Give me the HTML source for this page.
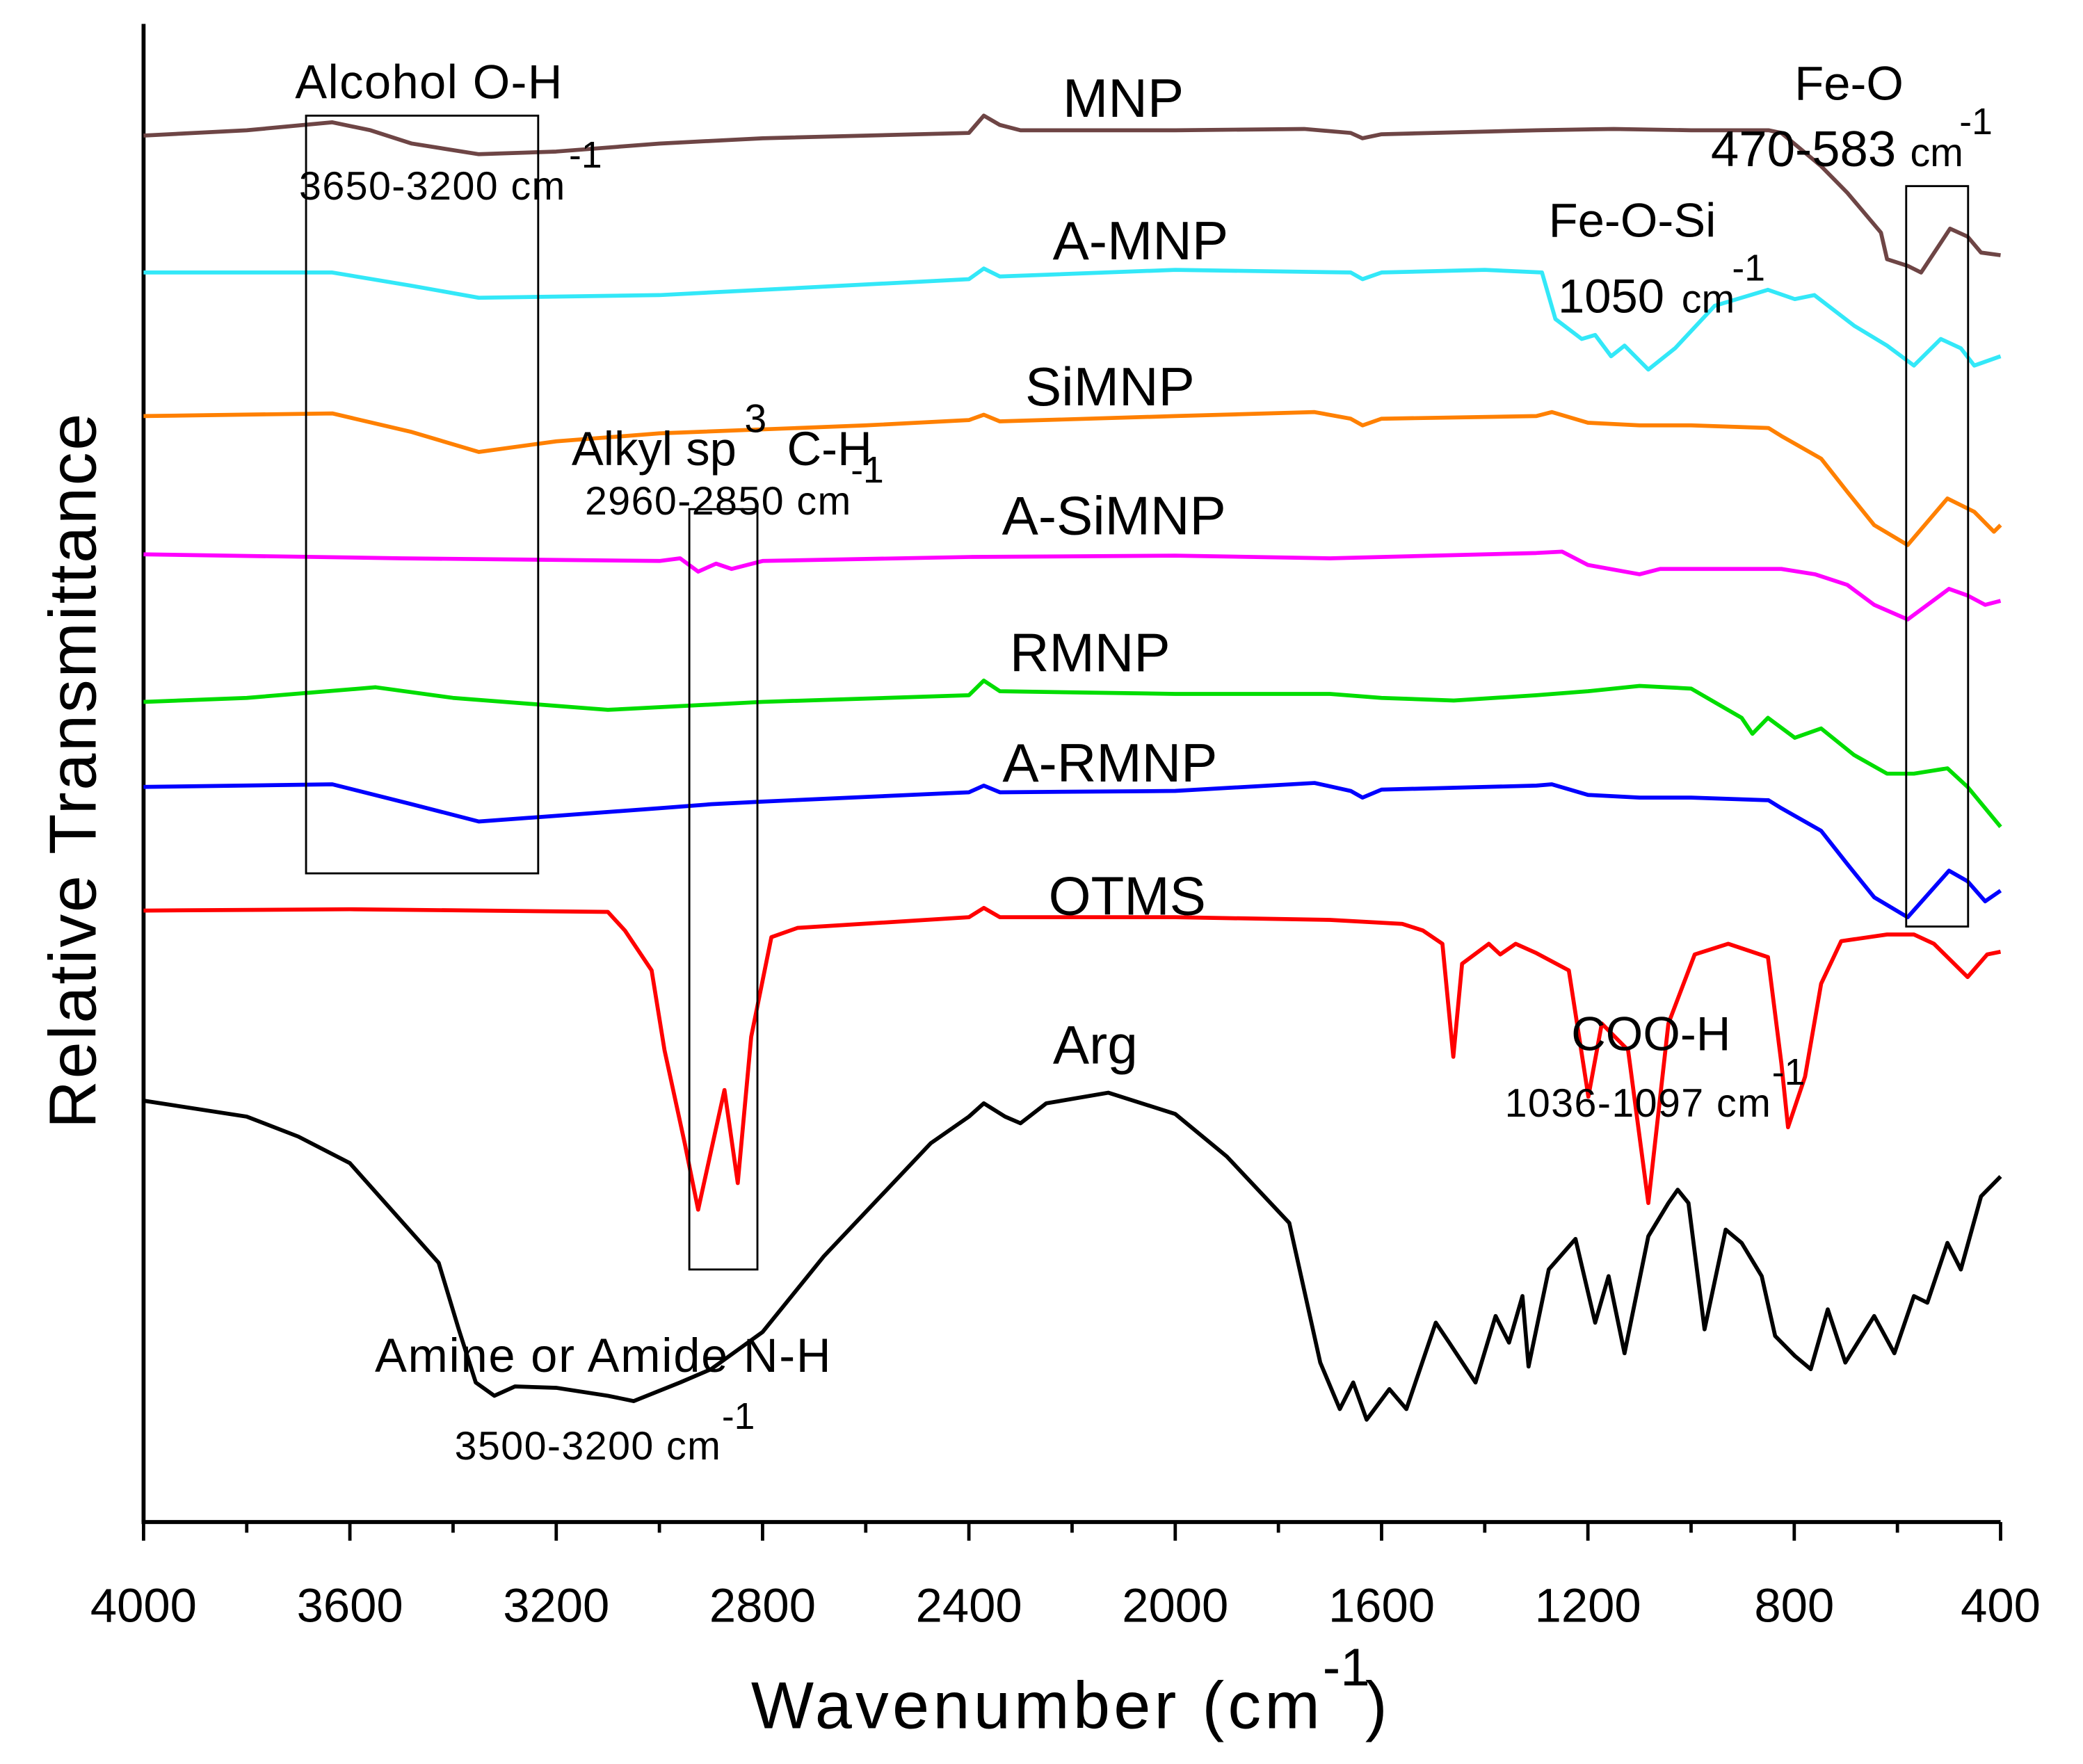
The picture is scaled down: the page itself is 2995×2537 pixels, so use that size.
<!DOCTYPE html>
<html><head><meta charset="utf-8"><style>
html,body{margin:0;padding:0;background:#fff;}
svg{display:block;}
text{font-family:"Liberation Sans",Arial,sans-serif;fill:#000;}
</style></head><body>
<svg id="chart" width="2995" height="2537" viewBox="0 0 1567 1327" preserveAspectRatio="none" xmlns="http://www.w3.org/2000/svg">
<g id="axes"></g>
<g id="series"></g>
<g id="ann">
<text x="222" y="74" font-size="36" textLength="201">Alcohol O-H</text>
<text x="225" y="150" font-size="30" textLength="200">3650-3200 cm</text>
<text x="428" y="126" font-size="28">-1</text>
<text x="430" y="350" font-size="36">Alkyl sp</text>
<text x="560" y="325" font-size="30">3</text>
<text x="592" y="350" font-size="36">C-H</text>
<text x="640" y="363" font-size="28">-1</text>
<text x="440" y="387" font-size="30" textLength="200">2960-2850 cm</text>
<text x="1350" y="75" font-size="36">Fe-O</text>
<text x="1287" y="125" font-size="38">470-583</text>
<text x="1437" y="125" font-size="30">cm</text>
<text x="1474" y="101" font-size="28">-1</text>
<text x="1165" y="178" font-size="36">Fe-O-Si</text>
<text x="1172" y="235" font-size="36">1050</text>
<text x="1265" y="235" font-size="30">cm</text>
<text x="1303" y="211" font-size="28">-1</text>
<text x="1182" y="790" font-size="36">COO-H</text>
<text x="1132" y="840" font-size="30" textLength="200">1036-1097 cm</text>
<text x="1333" y="816" font-size="28">-1</text>
<text x="282" y="1032" font-size="36" textLength="343">Amine or Amide N-H</text>
<text x="342" y="1098" font-size="30" textLength="200">3500-3200 cm</text>
<text x="543" y="1075" font-size="28">-1</text>
<text x="845" y="88" font-size="41" text-anchor="middle">MNP</text>
<text x="858" y="195" font-size="41" text-anchor="middle">A-MNP</text>
<text x="835" y="305" font-size="41" text-anchor="middle">SiMNP</text>
<text x="838" y="402" font-size="41" text-anchor="middle">A-SiMNP</text>
<text x="820" y="505" font-size="41" text-anchor="middle">RMNP</text>
<text x="835" y="588" font-size="41" text-anchor="middle">A-RMNP</text>
<text x="848" y="688" font-size="41" text-anchor="middle">OTMS</text>
<text x="824" y="800" font-size="41" text-anchor="middle">Arg</text>
<text transform="translate(72,580) rotate(-90)" font-size="50" text-anchor="middle" textLength="538">Relative Transmittance</text>
<text x="565" y="1300" font-size="50" textLength="428">Wavenumber (cm</text>
<text x="995" y="1268" font-size="40">-1</text>
<text x="1027" y="1300" font-size="50">)</text>
</g>
</svg>
<script>
const xTicks=[4000,3600,3200,2800,2400,2000,1600,1200,800,400];
const mnpWn=[4000,3800,3634,3560,3480,3350,3200,3000,2800,2400,2371,2340,2300,2000,1750,1660,1637,1600,1300,1150,1000,850,825,748,697,632,620,580,554,498,464,438,400];
const mnpVal=[109.8,110.2,110.8,110.2,109.2,108.4,108.6,109.2,109.6,110,111.3,110.6,110.2,110.2,110.3,110,109.6,109.9,110.2,110.3,110.2,110.2,110,107.5,105.5,102.5,100.5,100,99.5,102.8,102.2,101,100.8];
const amnpWn=[4000,3634,3480,3350,3000,2400,2371,2340,2000,1660,1637,1600,1400,1289,1263,1212,1186,1155,1129,1083,1031,954,851,799,761,684,620,568,516,477,451,400];
const amnpVal=[99.5,99.5,98.5,97.6,97.8,99,99.8,99.2,99.7,99.5,99,99.5,99.7,99.5,96,94.5,94.8,93.2,94,92.2,93.8,97,98.2,97.5,97.8,95.5,94,92.5,94.5,93.8,92.5,93.2];
const simnpWn=[4000,3634,3480,3350,3200,3000,2600,2400,2371,2340,2000,1730,1660,1637,1600,1300,1270,1200,1100,1000,850,825,748,697,645,580,503,451,413,400];
const simnpVal=[88.7,88.9,87.5,86,86.8,87.4,88,88.4,88.8,88.3,88.7,89,88.5,88,88.5,88.7,89,88.2,88,88,87.8,87.2,85.5,83,80.5,79,82.5,81.5,80,80.5];
const asimnpWn=[4000,3500,3000,2960,2925,2890,2860,2800,2400,2000,1700,1300,1250,1200,1100,1060,900,825,760,697,645,580,500,464,430,400];
const asimnpVal=[78.3,78,77.8,78,77,77.6,77.2,77.8,78.1,78.2,78,78.4,78.5,77.5,76.8,77.2,77.2,77.2,76.8,76,74.5,73.4,75.7,75.2,74.5,74.8];
const rmnpWn=[4000,3800,3550,3400,3100,2800,2400,2371,2340,2000,1700,1600,1460,1300,1200,1100,1000,902,881,851,799,748,684,620,568,503,464,400];
const rmnpVal=[67.2,67.5,68.3,67.5,66.6,67.2,67.7,68.8,68,67.8,67.8,67.5,67.3,67.7,68,68.4,68.2,66,64.8,66,64.5,65.2,63.2,61.8,61.8,62.2,60.8,57.8];
const armnpWn=[4000,3634,3480,3350,3000,2900,2800,2400,2371,2340,2000,1730,1660,1637,1600,1300,1270,1200,1100,1000,850,825,748,697,645,580,500,464,430,400];
const armnpVal=[60.8,61,59.5,58.2,59.2,59.5,59.7,60.4,60.9,60.4,60.5,61.1,60.5,60,60.6,60.9,61,60.2,60,60,59.8,59.2,57.5,55,52.5,51,54.5,53.7,52.2,53];
const otmsWn=[4000,3600,3100,3067,3015,2990,2951,2925,2874,2848,2822,2783,2732,2400,2371,2340,2000,1700,1560,1520,1482,1461,1444,1392,1370,1340,1300,1237,1199,1173,1122,1083,1044,993,928,851,825,812,779,748,709,620,568,529,464,426,400];
const otmsVal=[51.5,51.6,51.4,50,47,41,34,29,38,31,42,49.5,50.2,51,51.7,51,51,50.8,50.5,50,49,40.5,47.5,49,48.2,49,48.3,47,37.5,43,41,29.5,43,48.2,49,48,40,35.2,39,46,49.2,49.7,49.7,49,46.5,48.2,48.4];
const argWn=[4000,3800,3700,3600,3428,3389,3356,3320,3280,3200,3100,3050,2960,2900,2800,2681,2474,2400,2371,2330,2300,2250,2130,2000,1900,1779,1719,1681,1655,1629,1585,1552,1495,1469,1418,1379,1353,1327,1315,1276,1224,1186,1160,1129,1083,1044,1026,1005,974,933,902,863,837,799,768,735,701,645,606,568,542,503,477,438,400];
const argVal=[37.2,36,34.5,32.5,25,20,16,15,15.7,15.6,15,14.6,16,17,19.8,25.5,34,36,37,36,35.5,37,37.8,36.2,33,28,17.5,14,16,13.2,15.5,14,20.5,19,16,21,19,22.5,17.2,24.5,26.8,20.5,24,18.2,27,29.5,30.5,29.5,20,27.5,26.5,24,19.5,18,17,21.5,17.5,21,18.2,22.5,22,26.5,24.5,30,31.5];
const X0=108,X1=1505,Y0=1145,Y1=18;
function xs(w){return X0+(4000-w)/(4000-400)*(X1-X0);}
function ys(v){return 1200-v*10;}
const NS="http://www.w3.org/2000/svg";
const ax=document.getElementById('axes');
function mk(tag,attrs,parent){const e=document.createElementNS(NS,tag);for(const k in attrs)e.setAttribute(k,attrs[k]);parent.appendChild(e);return e;}
let l=mk('line',{x1:X0,y1:Y1,x2:X0,y2:Y0,stroke:'#000','stroke-width':3},ax);


l=mk('line',{x1:X0-1.5,y1:Y0,x2:X1,y2:Y0,stroke:'#000','stroke-width':3},ax);


for(let w=4000;w>=400;w-=200){
  const major=(w%400===0);
  const t=mk('line',{x1:xs(w),y1:Y0,x2:xs(w),y2:Y0+(major?14:8),stroke:'#000','stroke-width':2.5},ax);
  
  
}
xTicks.forEach(w=>{
  const t=mk('text',{x:xs(w),y:1220,'font-size':36,'text-anchor':'middle'},ax);
  t.textContent=w;
  
  
});
const sg=document.getElementById('series');
function draw(wn,val,color,name){
  let d='';
  for(let i=0;i<wn.length;i++){d+=(i?'L':'M')+xs(wn[i]).toFixed(1)+','+ys(val[i]).toFixed(1);}
  const p=mk('path',{d:d,fill:'none',stroke:color,'stroke-width':3,'stroke-linejoin':'round'},sg);
  
  
}
draw(mnpWn,mnpVal,'#6e4545','line-mnp');
draw(amnpWn,amnpVal,'#33e8f8','line-a-mnp');
draw(simnpWn,simnpVal,'#ff8000','line-simnp');
draw(asimnpWn,asimnpVal,'#ff00ff','line-a-simnp');
draw(rmnpWn,rmnpVal,'#00dd00','line-rmnp');
draw(armnpWn,armnpVal,'#0000ff','line-a-rmnp');
draw(otmsWn,otmsVal,'#ff0000','line-otms');
draw(argWn,argVal,'#000000','line-arg');
const an=document.getElementById('ann');
function box(w1,w2,yTop,yBot,name){
  const r=mk('rect',{x:xs(w1),y:yTop,width:xs(w2)-xs(w1),height:yBot-yTop,fill:'none',stroke:'#000','stroke-width':1.5},an);
  
  
}
box(3685,3235,87,657,'box-alcohol-oh');
box(2942,2810,383,955,'box-alkyl-ch');
box(583,463,140,697,'box-fe-o');
</script>
</body></html>
